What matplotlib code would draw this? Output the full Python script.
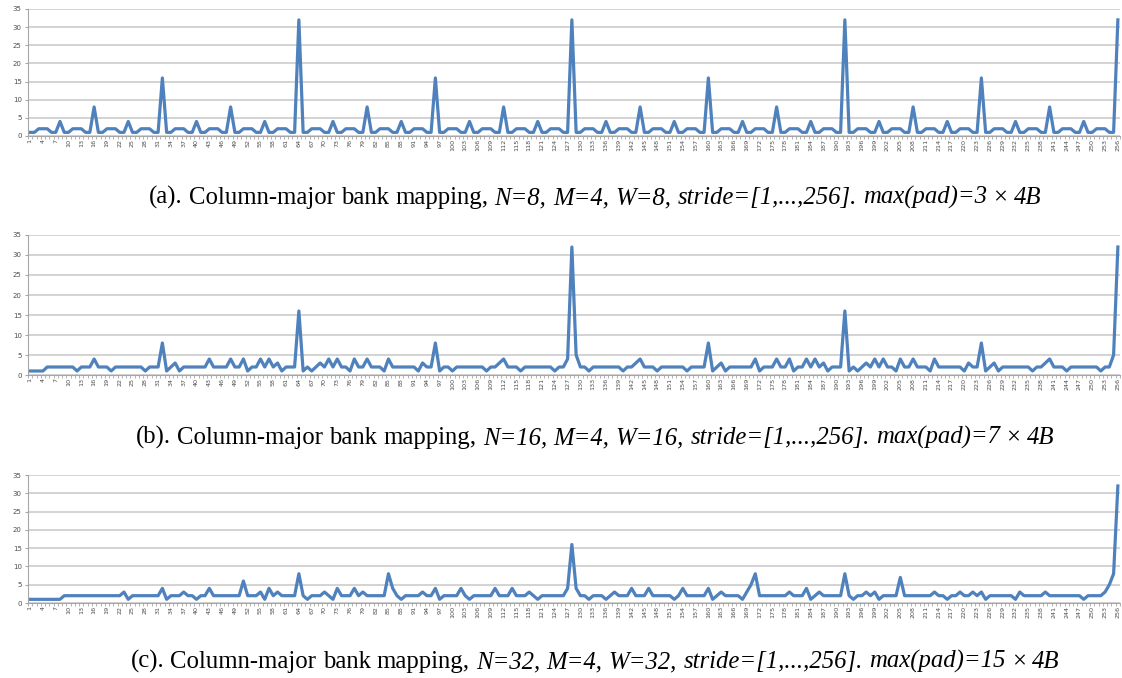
import matplotlib.pyplot as plt
import numpy as np

# stride values on the x axis
strides = np.arange(1, 257)

# (a) N=8, M=4, W=8
pad_a = [
    1, 1, 2, 2, 2, 1, 1, 4, 1, 1, 2, 2, 2, 1, 1, 8,
    1, 1, 2, 2, 2, 1, 1, 4, 1, 1, 2, 2, 2, 1, 1, 16,
    1, 1, 2, 2, 2, 1, 1, 4, 1, 1, 2, 2, 2, 1, 1, 8,
    1, 1, 2, 2, 2, 1, 1, 4, 1, 1, 2, 2, 2, 1, 1, 32,
    1, 1, 2, 2, 2, 1, 1, 4, 1, 1, 2, 2, 2, 1, 1, 8,
    1, 1, 2, 2, 2, 1, 1, 4, 1, 1, 2, 2, 2, 1, 1, 16,
    1, 1, 2, 2, 2, 1, 1, 4, 1, 1, 2, 2, 2, 1, 1, 8,
    1, 1, 2, 2, 2, 1, 1, 4, 1, 1, 2, 2, 2, 1, 1, 32,
    1, 1, 2, 2, 2, 1, 1, 4, 1, 1, 2, 2, 2, 1, 1, 8,
    1, 1, 2, 2, 2, 1, 1, 4, 1, 1, 2, 2, 2, 1, 1, 16,
    1, 1, 2, 2, 2, 1, 1, 4, 1, 1, 2, 2, 2, 1, 1, 8,
    1, 1, 2, 2, 2, 1, 1, 4, 1, 1, 2, 2, 2, 1, 1, 32,
    1, 1, 2, 2, 2, 1, 1, 4, 1, 1, 2, 2, 2, 1, 1, 8,
    1, 1, 2, 2, 2, 1, 1, 4, 1, 1, 2, 2, 2, 1, 1, 16,
    1, 1, 2, 2, 2, 1, 1, 4, 1, 1, 2, 2, 2, 1, 1, 8,
    1, 1, 2, 2, 2, 1, 1, 4, 1, 1, 2, 2, 2, 1, 1, 32,
]

# (b) N=16, M=4, W=16
pad_b = [
    1, 1, 1, 1, 2, 2, 2, 2, 2, 2, 2, 1, 2, 2, 2, 4,
    2, 2, 2, 1, 2, 2, 2, 2, 2, 2, 2, 1, 2, 2, 2, 8,
    1, 2, 3, 1, 2, 2, 2, 2, 2, 2, 4, 2, 2, 2, 2, 4,
    2, 2, 4, 1, 2, 2, 4, 2, 4, 2, 3, 1, 2, 2, 2, 16,
    1, 2, 1, 2, 3, 2, 4, 2, 4, 2, 2, 1, 4, 2, 2, 4,
    2, 2, 2, 1, 4, 2, 2, 2, 2, 2, 2, 1, 3, 2, 2, 8,
    1, 2, 2, 1, 2, 2, 2, 2, 2, 2, 2, 1, 2, 2, 3, 4,
    2, 2, 2, 1, 2, 2, 2, 2, 2, 2, 2, 1, 2, 2, 4, 32,
    5, 2, 2, 1, 2, 2, 2, 2, 2, 2, 2, 1, 2, 2, 3, 4,
    2, 2, 2, 1, 2, 2, 2, 2, 2, 2, 1, 2, 2, 2, 2, 8,
    1, 2, 3, 1, 2, 2, 2, 2, 2, 2, 4, 1, 2, 2, 2, 4,
    2, 2, 4, 1, 2, 2, 4, 2, 4, 2, 3, 1, 2, 2, 2, 16,
    1, 2, 1, 2, 3, 2, 4, 2, 4, 2, 2, 1, 4, 2, 2, 4,
    2, 2, 2, 1, 4, 2, 2, 2, 2, 2, 2, 1, 3, 2, 2, 8,
    1, 2, 3, 1, 2, 2, 2, 2, 2, 2, 2, 1, 2, 2, 3, 4,
    2, 2, 2, 1, 2, 2, 2, 2, 2, 2, 2, 1, 2, 2, 5, 32,
]

# (c) N=32, M=4, W=32
pad_c = [
    1, 1, 1, 1, 1, 1, 1, 1, 2, 2, 2, 2, 2, 2, 2, 2,
    2, 2, 2, 2, 2, 2, 3, 1, 2, 2, 2, 2, 2, 2, 2, 4,
    1, 2, 2, 2, 3, 2, 2, 1, 2, 2, 4, 2, 2, 2, 2, 2,
    2, 2, 6, 2, 2, 2, 3, 1, 4, 2, 3, 2, 2, 2, 2, 8,
    2, 1, 2, 2, 2, 3, 2, 1, 4, 2, 2, 2, 4, 2, 3, 2,
    2, 2, 2, 2, 8, 4, 2, 1, 2, 2, 2, 2, 3, 2, 2, 4,
    1, 2, 2, 2, 2, 4, 2, 1, 2, 2, 2, 2, 2, 4, 2, 2,
    2, 4, 2, 2, 2, 3, 2, 1, 2, 2, 2, 2, 2, 2, 4, 16,
    4, 2, 2, 1, 2, 2, 2, 1, 2, 3, 2, 2, 2, 4, 2, 2,
    2, 4, 2, 2, 2, 2, 2, 1, 2, 4, 2, 2, 2, 2, 2, 4,
    1, 2, 3, 2, 2, 2, 2, 1, 3, 5, 8, 2, 2, 2, 2, 2,
    2, 2, 3, 2, 2, 2, 4, 1, 2, 3, 2, 2, 2, 2, 2, 8,
    2, 1, 2, 2, 3, 2, 3, 1, 2, 2, 2, 2, 7, 2, 2, 2,
    2, 2, 2, 2, 3, 2, 2, 1, 2, 2, 3, 2, 2, 3, 2, 3,
    1, 2, 2, 2, 2, 2, 2, 1, 3, 2, 2, 2, 2, 2, 3, 2,
    2, 2, 2, 2, 2, 2, 2, 1, 2, 2, 2, 2, 3, 5, 8, 32,
]

cap_a = [("(a).", "normal"), ("Column-major", "normal"), ("bank", "normal"), ("mapping,", "normal"),
         ("N=8,", "italic"), ("M=4,", "italic"), ("W=8,", "italic"), ("stride=[1,...,256].", "italic"),
         ("max(pad)=3", "italic"), ("\u00d7", "normal"), ("4B", "italic")]
cap_b = [("(b).", "normal"), ("Column-major", "normal"), ("bank", "normal"), ("mapping,", "normal"),
         ("N=16,", "italic"), ("M=4,", "italic"), ("W=16,", "italic"), ("stride=[1,...,256].", "italic"),
         ("max(pad)=7", "italic"), ("\u00d7", "normal"), ("4B", "italic")]
cap_c = [("(c).", "normal"), ("Column-major", "normal"), ("bank", "normal"), ("mapping,", "normal"),
         ("N=32,", "italic"), ("M=4,", "italic"), ("W=32,", "italic"), ("stride=[1,...,256].", "italic"),
         ("max(pad)=15", "italic"), ("\u00d7", "normal"), ("4B", "italic")]

W, H = 1122, 678
fig = plt.figure(figsize=(W / 100, H / 100), dpi=100)
FS = 17.8
serif = "Liberation Serif"

# pixel layout: (zero line y, top line y, caption baseline y)
panels = [(pad_a, 136, 9, cap_a, 204),
          (pad_b, 375, 235, cap_b, 444),
          (pad_c, 603, 475, cap_c, 668)]

renderer = fig.canvas.get_renderer()
t1 = fig.text(0, 0, "x x", fontsize=FS, family=serif)
t2 = fig.text(0, 0, "xx", fontsize=FS, family=serif)
space = t1.get_window_extent(renderer).width - t2.get_window_extent(renderer).width
t1.remove()
t2.remove()

for vals, y0, y35, cap, yb in panels:
    ax = fig.add_axes([28 / W, 1 - y0 / H, 1092 / W, (y0 - y35) / H])
    ax.plot(strides, vals, color="#4F81BD", lw=2.3, solid_joinstyle="round")
    ax.set_xlim(0.5, 256.5)
    ax.set_ylim(0, 35)
    ax.set_yticks(range(0, 36, 5))
    ax.set_xticks(strides[::3])
    ax.set_xticklabels([str(s) for s in strides[::3]], rotation=90)
    ax.set_xticks(np.arange(0.5, 257, 1), minor=True)
    ax.grid(axis="y", color="#d0d0d0", lw=1.3)
    ax.set_axisbelow(True)
    for s in ["top", "right"]:
        ax.spines[s].set_visible(False)
    ax.spines["left"].set_color("#a6a6a6")
    ax.spines["bottom"].set_color("#a6a6a6")
    ax.tick_params(axis="x", which="major", length=0, labelsize=4.6, labelcolor="#4d4d4d", pad=2)
    ax.tick_params(axis="x", which="minor", length=2.5, color="#a6a6a6", width=0.6)
    ax.tick_params(axis="y", length=2.5, color="#a6a6a6", labelsize=5, labelcolor="#4d4d4d", pad=2)

    # caption made of words, some italic
    texts = [fig.text(0, 1 - yb / H, w, fontsize=FS, family=serif, style=st, va="baseline")
             for w, st in cap]
    widths = [t.get_window_extent(renderer).width for t in texts]
    total = sum(widths) + space * (len(texts) - 1)
    x = 595 - total / 2
    for t, w in zip(texts, widths):
        t.set_x(x / W)
        x += w + space

fig.savefig("out.png", dpi=100)
